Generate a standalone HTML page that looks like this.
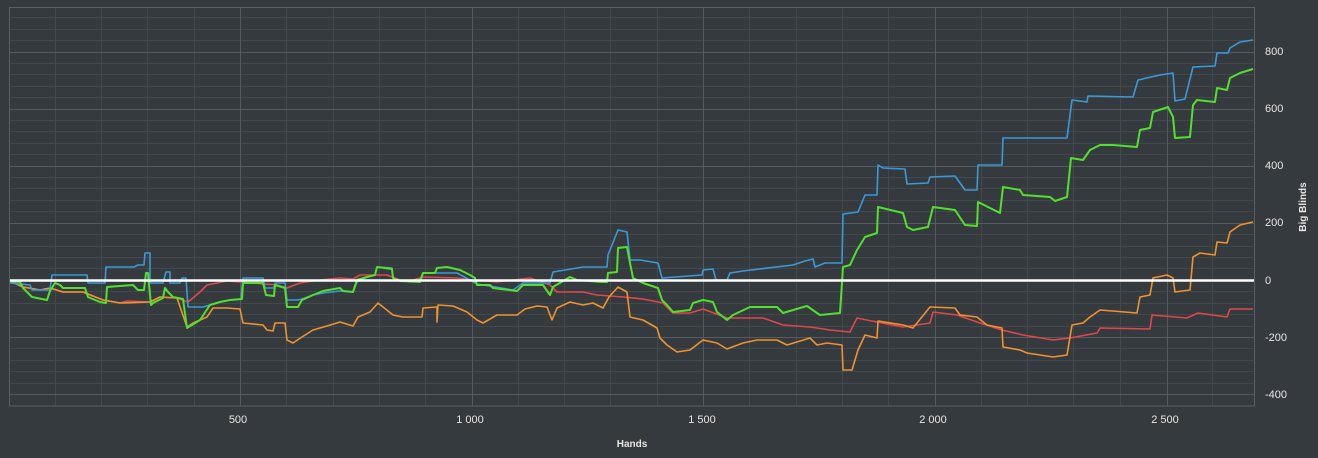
<!DOCTYPE html>
<html><head><meta charset="utf-8"><style>
html,body{margin:0;padding:0;background:#353a3e;}
svg{display:block;font-family:"Liberation Sans",sans-serif;}
</style></head><body>
<svg width="1318" height="458" viewBox="0 0 1318 458" xmlns="http://www.w3.org/2000/svg">
<rect width="1318" height="458" fill="#353a3e"/>
<g stroke-width="1" shape-rendering="crispEdges" fill="none">
<path stroke="#43484c" d="M55.5 8V406M101.5 8V406M147.5 8V406M194.5 8V406M286.5 8V406M333.5 8V406M379.5 8V406M425.5 8V406M518.5 8V406M564.5 8V406M610.5 8V406M657.5 8V406M749.5 8V406M796.5 8V406M842.5 8V406M888.5 8V406M981.5 8V406M1027.5 8V406M1073.5 8V406M1120.5 8V406M1212.5 8V406
M10 383.5H1254M10 371.5H1254M10 360.5H1254M10 348.5H1254M10 326.5H1254M10 314.5H1254M10 303.5H1254M10 291.5H1254M10 268.5H1254M10 257.5H1254M10 246.5H1254M10 234.5H1254M10 211.5H1254M10 200.5H1254M10 188.5H1254M10 177.5H1254M10 154.5H1254M10 143.5H1254M10 131.5H1254M10 120.5H1254M10 97.5H1254M10 86.5H1254M10 74.5H1254M10 63.5H1254M10 40.5H1254M10 29.5H1254M10 17.5H1254"/>
<path stroke="#565b60" d="M240.5 8V406M472.5 8V406M703.5 8V406M935.5 8V406M1167.5 8V406
M10 394.5H1254M10 337.5H1254M10 223.5H1254M10 166.5H1254M10 109.5H1254M10 52.5H1254"/>
</g>
<g fill="none" stroke-linejoin="round" stroke-width="1.6">
<polyline stroke="#e0474c" points="10,281 23,287 40,290 50,288 63,292 83,292 103,300 120,303 127,301 150,302 160,297 177,298 188,302 200,292 207,285 227,281 253,283 277,285 287,288 300,283 320,280 340,278 353,279 360,275 387,275 400,280 410,281 423,277 457,278 473,280 497,282 530,278 550,285 557,292 583,292 597,295 623,297 643,299 663,303 673,313 690,313 703,309 727,318 763,318 783,325 810,327 830,330 850,332 857,318 877,322 903,327 930,323 933,312 957,315 980,323 1002,330 1023,335 1053,340 1070,338 1097,333 1100,328 1150,329 1152,315 1187,318 1198,313 1227,317 1230,309 1253,309"/>
<polyline stroke="#ef922f" points="10,281 23,287 40,290 50,288 63,292 83,292 103,300 120,303 150,302 160,297 177,298 187,327 193,323 207,317 213,308 227,308 240,309 243,323 263,325 267,330 273,331 275,323 285,323 287,340 293,343 302,337 313,330 327,326 340,322 353,326 358,317 370,312 378,303 393,315 403,317 422,317 423,308 437,307 437,322 438,305 453,306 467,312 477,320 483,323 497,315 517,315 525,309 537,306 547,307 552,320 557,308 570,302 583,305 593,303 603,308 609,297 618,287 627,292 630,317 643,320 657,328 660,338 667,345 677,352 690,350 703,340 717,343 727,349 743,343 757,340 777,340 787,345 810,338 817,345 827,343 842,345 843,370 852,370 858,350 865,335 877,338 878,321 903,325 913,328 930,307 955,308 960,315 977,317 987,325 1002,328 1003,347 1020,350 1027,353 1053,357 1067,355 1072,325 1083,323 1090,317 1100,310 1137,313 1140,297 1150,295 1153,278 1167,275 1173,278 1175,292 1190,290 1193,257 1200,253 1215,255 1217,242 1227,243 1230,232 1240,225 1253,222"/>
<polyline stroke="#3a9ad9" points="10,283 30,285 32,290 50,290 52,275 87,275 88,283 105,283 106,267 134,267 138,265 144,265 145,253 150,253 150,283 163,283 166,272 170,272 170,283 180,283 182,278 186,278 188,307 203,307 210,305 220,302 230,300 241,299 243,278 263,278 265,288 274,288 275,283 285,283 287,300 298,300 302,299 313,295 323,293 340,291 353,292 357,282 367,277 375,275 377,267 392,268 393,278 400,281 410,281 420,280 423,273 457,273 470,280 477,284 513,290 523,283 550,283 553,272 583,267 607,267 608,255 618,230 627,232 630,260 640,260 658,263 662,278 702,275 703,270 713,269 716,280 727,280 730,273 743,271 793,265 805,261 813,259 815,267 825,263 842,263 843,214 858,212 865,195 877,195 878,165 883,168 905,169 907,184 928,183 930,177 955,176 965,190 977,190 978,165 1002,165 1003,138 1067,138 1072,100 1087,102 1088,96 1133,97 1138,80 1160,75 1173,73 1175,101 1185,99 1193,67 1215,66 1217,53 1228,53 1230,48 1240,42 1253,40"/>
<polyline stroke="#52e02c" stroke-width="2" points="10,281 20,282 23,288 32,297 47,300 50,291 55,283 60,285 63,288 85,288 88,297 100,302 106,303 107,287 133,285 138,290 144,290 146,273 148,273 151,305 153,303 163,298 165,288 168,292 173,297 183,299 187,328 192,325 200,320 210,305 220,302 230,300 242,299 243,283 263,283 266,295 274,296 275,285 285,288 287,307 298,307 302,300 313,295 323,291 340,288 343,291 353,292 357,280 367,277 375,275 377,267 392,269 393,278 400,281 420,282 423,273 435,273 437,268 447,267 460,270 470,275 475,278 477,285 490,285 493,288 517,291 523,285 543,285 550,295 553,287 570,277 577,280 602,282 607,282 608,273 617,272 618,248 627,247 630,263 633,278 643,283 658,288 662,300 667,305 673,312 690,310 693,303 703,300 713,302 717,312 727,320 733,315 750,307 777,307 783,313 800,308 807,306 817,313 820,315 840,313 843,267 850,265 857,250 865,237 877,233 878,207 903,213 907,227 913,230 928,227 933,207 955,210 965,225 977,226 978,202 1000,213 1003,187 1020,190 1023,195 1050,197 1055,201 1067,197 1071,158 1083,160 1090,150 1100,145 1113,145 1137,147 1140,130 1150,128 1153,112 1168,107 1173,117 1175,138 1190,137 1193,105 1197,100 1215,102 1217,88 1227,90 1230,78 1240,73 1253,69"/>
</g>
<line x1="9" y1="280.5" x2="1254" y2="280.5" stroke="#ffffff" stroke-width="2.5"/>
<g fill="#e6e6e6" font-size="11">
<text x="1265" y="55">800</text>
<text x="1265" y="112">600</text>
<text x="1265" y="169">400</text>
<text x="1265" y="226">200</text>
<text x="1265" y="284">0</text>
<text x="1265" y="341">-200</text>
<text x="1265" y="398">-400</text>
<text x="238" y="423" text-anchor="middle">500</text>
<text x="470" y="423" text-anchor="middle">1 000</text>
<text x="702" y="423" text-anchor="middle">1 500</text>
<text x="933" y="423" text-anchor="middle">2 000</text>
<text x="1165" y="423" text-anchor="middle">2 500</text>
<text x="632" y="447" text-anchor="middle" font-weight="bold" font-size="10">Hands</text>
<text transform="translate(1306,207) rotate(-90)" text-anchor="middle" font-weight="bold" font-size="10">Big Blinds</text>
</g>
<rect x="9.5" y="7.5" width="1245" height="398.5" fill="none" stroke="#5a5f64" shape-rendering="crispEdges"/>
</svg>
</body></html>
